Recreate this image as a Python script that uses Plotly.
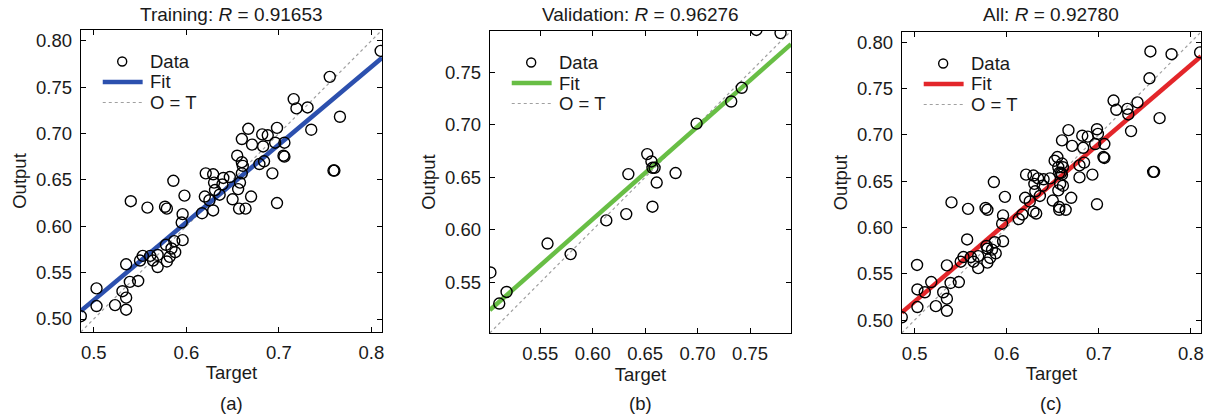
import plotly.graph_objects as go

# ---------------- data ----------------
train_target = [0.486, 0.503, 0.503, 0.523, 0.531, 0.535, 0.535, 0.535, 0.539, 0.548,
                0.540, 0.550, 0.553, 0.558, 0.561, 0.564, 0.569, 0.569, 0.577, 0.579,
                0.578, 0.579, 0.582, 0.584, 0.587, 0.588, 0.586, 0.596, 0.595, 0.596,
                0.598, 0.617, 0.620, 0.621, 0.625, 0.629, 0.629, 0.630, 0.631, 0.636,
                0.639, 0.640, 0.647, 0.650, 0.655, 0.656, 0.657, 0.658, 0.660, 0.661,
                0.660, 0.667, 0.660, 0.664, 0.670, 0.671, 0.679, 0.684, 0.682, 0.688,
                0.683, 0.693, 0.696, 0.698, 0.698, 0.706, 0.705, 0.706, 0.716, 0.719,
                0.731, 0.735, 0.755, 0.759, 0.760, 0.766, 0.810]
train_output = [0.503, 0.533, 0.514, 0.515, 0.530, 0.523, 0.510, 0.559, 0.540, 0.541,
                0.627, 0.563, 0.568, 0.620, 0.568, 0.563, 0.569, 0.556, 0.621, 0.619,
                0.580, 0.562, 0.567, 0.576, 0.584, 0.572, 0.649, 0.585, 0.604, 0.613,
                0.633, 0.614, 0.632, 0.657, 0.628, 0.617, 0.656, 0.647, 0.639, 0.634,
                0.645, 0.652, 0.653, 0.629, 0.676, 0.640, 0.619, 0.647, 0.669, 0.665,
                0.657, 0.705, 0.694, 0.619, 0.632, 0.688, 0.667, 0.670, 0.699, 0.698,
                0.686, 0.657, 0.690, 0.706, 0.625, 0.690, 0.676, 0.675, 0.737, 0.727,
                0.728, 0.704, 0.761, 0.660, 0.660, 0.718, 0.789]

val_target = [0.5026, 0.511, 0.518, 0.557, 0.579, 0.613, 0.632, 0.634, 0.652, 0.656,
              0.657, 0.659, 0.661, 0.657, 0.679, 0.699, 0.732, 0.742, 0.756, 0.779]
val_output = [0.5595, 0.530, 0.541, 0.587, 0.577, 0.609, 0.615, 0.653, 0.672, 0.665,
              0.659, 0.659, 0.645, 0.622, 0.654, 0.701, 0.722, 0.735, 0.790, 0.787]

all_target = train_target + val_target
all_output = train_output + val_output

# fitted regression lines (end points)
fit_train_x = [0.486, 0.8115]
fit_train_y = [0.5086, 0.7815]
fit_val_x = [0.502, 0.789]
fit_val_y = [0.5238, 0.7765]
fit_all_x = [0.486, 0.811]
fit_all_y = [0.5080, 0.7848]

ranges = [[0.486, 0.8115], [0.502, 0.789], [0.486, 0.811]]

titles = ["Training: <i>R</i> = 0.91653", "Validation: <i>R</i> = 0.96276", "All: <i>R</i> = 0.92780"]
captions = ["(a)", "(b)", "(c)"]
legend_labels = ["Data", "Fit", "O = T"]
fit_colors = ["#2C50AE", "#68BE45", "#E3262A"]

tick_vals_x = [[0.5, 0.6, 0.7, 0.8], [0.55, 0.60, 0.65, 0.70, 0.75], [0.5, 0.6, 0.7, 0.8]]
tick_text_x = [["0.5", "0.6", "0.7", "0.8"], ["0.55", "0.60", "0.65", "0.70", "0.75"], ["0.5", "0.6", "0.7", "0.8"]]
tick_vals_y = [[0.50, 0.55, 0.60, 0.65, 0.70, 0.75, 0.80], [0.55, 0.60, 0.65, 0.70, 0.75],
               [0.50, 0.55, 0.60, 0.65, 0.70, 0.75, 0.80]]
tick_text_y = [["0.50", "0.55", "0.60", "0.65", "0.70", "0.75", "0.80"],
               ["0.55", "0.60", "0.65", "0.70", "0.75"],
               ["0.50", "0.55", "0.60", "0.65", "0.70", "0.75", "0.80"]]

panels = [
    (train_target, train_output, fit_train_x, fit_train_y),
    (val_target, val_output, fit_val_x, fit_val_y),
    (all_target, all_output, fit_all_x, fit_all_y),
]

# ---------------- layout geometry ----------------
W, H = 1217, 416
x_px = [(81, 383), (491, 793), (904, 1204)]
y_px = [(30, 332), (31, 333), (32, 333)]

FONT = "Arial, 'Liberation Sans', Helvetica, sans-serif"
TXT = "#1a1a1a"
DOT = "#a0a0a0"


def px(x):
    return x / W


def py(y):
    return 1 - y / H


fig = go.Figure()
layout = dict(
    width=W, height=H, margin=dict(l=0, r=0, t=0, b=0),
    paper_bgcolor="white", plot_bgcolor="white",
    font=dict(family=FONT, color=TXT, size=18),
    showlegend=False,
    annotations=[], shapes=[],
)

for i, (tx, ty, fx, fy) in enumerate(panels):
    sfx = "" if i == 0 else str(i + 1)
    xa, ya = "x" + sfx, "y" + sfx
    lo, hi = ranges[i]

    fig.add_trace(go.Scatter(x=[lo, hi], y=[lo, hi], mode="lines", name="O = T",
                             line=dict(color=DOT, width=1.2, dash="dot"),
                             xaxis=xa, yaxis=ya))
    fig.add_trace(go.Scatter(x=fx, y=fy, mode="lines", name="Fit",
                             line=dict(color=fit_colors[i], width=4.5),
                             xaxis=xa, yaxis=ya))
    fig.add_trace(go.Scatter(x=tx, y=ty, mode="markers", name="Data",
                             marker=dict(symbol="circle-open", size=11, color="black",
                                         line=dict(color="black", width=1.4)),
                             xaxis=xa, yaxis=ya))

    x0, x1 = x_px[i]
    y0, y1 = y_px[i]
    common = dict(showline=True, linecolor="black", linewidth=1, mirror="ticks",
                  ticks="inside", ticklen=5, tickcolor="black", tickwidth=1,
                  showgrid=False, zeroline=False, range=[lo, hi],
                  tickfont=dict(size=18.5, family=FONT, color=TXT))
    layout["xaxis" + sfx] = dict(
        common, domain=[px(x0), px(x1)], anchor=ya,
        tickvals=tick_vals_x[i], ticktext=tick_text_x[i], ticklabelstandoff=4,
        title=dict(text="Target", standoff=3, font=dict(size=18.5, family=FONT, color=TXT)))
    layout["yaxis" + sfx] = dict(
        common, domain=[py(y1), py(y0)], anchor=xa,
        tickvals=tick_vals_y[i], ticktext=tick_text_y[i], ticklabelstandoff=4,
        title=dict(text="Output", standoff=4, font=dict(size=18.5, family=FONT, color=TXT)))

    # ----- legend (drawn in paper coordinates, top-left inside each panel) -----
    lx0, lx1 = x0 + 22, x0 + 62
    rows = [y0 + 31.5, y0 + 52, y0 + 72.5]
    layout["shapes"].append(dict(type="circle", xref="paper", yref="paper",
                                 xsizemode="pixel", ysizemode="pixel",
                                 xanchor=px(x0 + 41.5), yanchor=py(rows[0]),
                                 x0=-4.5, x1=4.5, y0=-4.5, y1=4.5,
                                 line=dict(color="black", width=1.4)))
    layout["shapes"].append(dict(type="line", xref="paper", yref="paper",
                                 x0=px(lx0), x1=px(lx1), y0=py(rows[1]), y1=py(rows[1]),
                                 line=dict(color=fit_colors[i], width=4.5)))
    layout["shapes"].append(dict(type="line", xref="paper", yref="paper",
                                 x0=px(lx0), x1=px(lx1), y0=py(rows[2]), y1=py(rows[2]),
                                 line=dict(color=DOT, width=1.2, dash="dot")))
    for lab, ry in zip(legend_labels, rows):
        layout["annotations"].append(dict(text=lab, x=px(x0 + 67), y=py(ry), xref="paper", yref="paper",
                                          showarrow=False, xanchor="left", yanchor="middle",
                                          font=dict(size=18.5, family=FONT, color=TXT)))

    cx = px((x0 + x1) / 2)
    layout["annotations"].append(dict(text=titles[i], x=cx, y=py(15), xref="paper", yref="paper",
                                      showarrow=False, xanchor="center", yanchor="middle",
                                      font=dict(size=19, family=FONT, color=TXT)))
    layout["annotations"].append(dict(text=captions[i], x=cx, y=py(403), xref="paper", yref="paper",
                                      showarrow=False, xanchor="center", yanchor="middle",
                                      font=dict(size=18.5, family=FONT, color=TXT)))

fig.update_layout(**layout)
fig.write_html("out.html")
